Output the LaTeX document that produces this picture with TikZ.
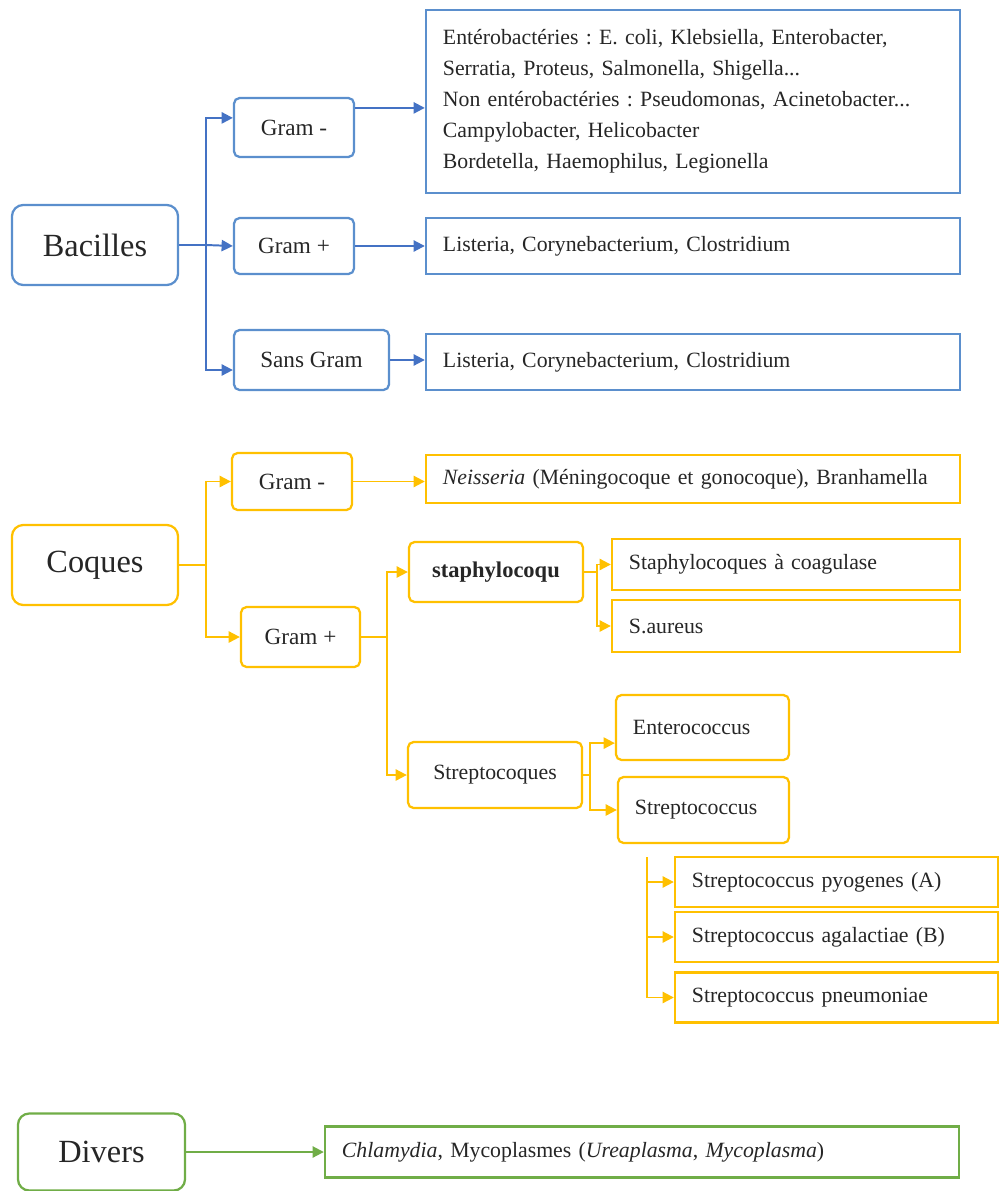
\documentclass[tikz,border=0pt]{standalone}
\usepackage{fontspec}
\setmainfont{Liberation Serif}
\usetikzlibrary{arrows.meta}
\definecolor{bacblue}{HTML}{4472C4}
\definecolor{boxblue}{HTML}{5B8FCD}
\definecolor{coqgold}{HTML}{FFC000}
\definecolor{divgreen}{HTML}{70AD47}
\frenchspacing

\begin{document}
\begin{tikzpicture}[x=0.025cm,y=-0.025cm,>={Triangle[length=8pt,width=8pt]},
  every node/.style={inner ysep=0pt,text=black!85},
  root/.style={draw,line width=1.6pt,rounded corners=8pt,minimum width=4.15cm,minimum height=2cm,font=\fontsize{23}{26}\selectfont},
  mid/.style={draw,line width=1.6pt,rounded corners=4pt,font=\fontsize{16.5}{19}\selectfont},
  leaf/.style={draw,line width=1.6pt,inner xsep=0.425cm,align=left,font=\fontsize{15.5}{22}\selectfont},
  link/.style={->,line width=1.4pt},
  trunk/.style={line width=1.4pt}]
\useasboundingbox (0,0) rectangle (1004,1191);

% bacilles
\node[root,draw=boxblue] (bac) at (95,245) {Bacilles};
\node[mid,draw=boxblue,minimum width=3cm,minimum height=1.475cm] (bgn) at (294,127.5) {Gram -};
\node[mid,draw=boxblue,minimum width=3cm,minimum height=1.4cm] (bgp) at (294,246) {Gram +};
\node[mid,draw=boxblue,minimum width=3.875cm,minimum height=1.5cm] (bsg) at (311.5,360) {Sans Gram};
\node[leaf,draw=boxblue,text width=12.5cm,minimum height=4.575cm] (lgn) at (693,101.5) {Entérobactéries : E. coli, Klebsiella, Enterobacter,\\Serratia, Proteus, Salmonella, Shigella...\\Non entérobactéries : Pseudomonas, Acinetobacter...\\Campylobacter, Helicobacter\\Bordetella, Haemophilus, Legionella};
\node[leaf,draw=boxblue,text width=12.5cm,minimum height=1.4cm] (lgp) at (693,246) {Listeria, Corynebacterium, Clostridium};
\node[leaf,draw=boxblue,text width=12.5cm,minimum height=1.4cm] (lsg) at (693,362) {Listeria, Corynebacterium, Clostridium};
\coordinate (bj) at (206,245);
\coordinate (bgnout) at ([yshift=0.49cm]bgn.east);
\draw[trunk,bacblue] (bac.east) -- (bj);
\draw[link,bacblue] (bj) |- ([yshift=0.24cm]bgn.west);
\draw[link,bacblue] (bj) -- (bgp.west);
\draw[link,bacblue] (bj) |- ([yshift=-0.25cm]bsg.west);
\draw[link,bacblue] (bgnout) -- (bgnout -| lgn.west);
\draw[link,bacblue] (bgp.east) -- (lgp.west);
\draw[link,bacblue] (bsg.east) -- (bsg.east -| lsg.west);

% coques
\node[root,draw=coqgold] (coq) at (95,565) {Coques};
\node[mid,draw=coqgold,minimum width=3cm,minimum height=1.425cm] (cgn) at (292,481.5) {Gram -};
\node[mid,draw=coqgold,minimum width=2.975cm,minimum height=1.5cm] (cgp) at (300.5,637) {Gram +};
\node[leaf,draw=coqgold,text width=12.5cm,minimum height=1.2cm] (neis) at (693,479) {\textit{Neisseria} (Méningocoque et gonocoque), Branhamella};
\node[mid,draw=coqgold,minimum width=4.35cm,minimum height=1.5cm,font=\fontsize{16}{19}\selectfont\bfseries] (staph) at (496,572) {staphylocoqu};
\node[mid,draw=coqgold,minimum width=4.35cm,minimum height=1.65cm,font=\fontsize{15.5}{19}\selectfont] (strq) at (495,775) {Streptocoques};
\node[leaf,draw=coqgold,text width=7.85cm,minimum height=1.275cm] (coag) at (786,564.5) {Staphylocoques à coagulase};
\node[leaf,draw=coqgold,text width=7.85cm,minimum height=1.3cm] (saur) at (786,626) {S.aureus};
\node[leaf,draw=coqgold,rounded corners=4pt,text width=3.475cm,minimum height=1.625cm] (ent) at (702.5,727.5) {Enterococcus};
\node[leaf,draw=coqgold,rounded corners=4pt,text width=3.425cm,minimum height=1.65cm] (strc) at (703.5,810) {Streptococcus};
\node[leaf,draw=coqgold,text width=7.225cm,minimum height=1.25cm] (pyo) at (836.5,882) {Streptococcus pyogenes (A)};
\node[leaf,draw=coqgold,text width=7.225cm,minimum height=1.25cm] (aga) at (836.5,937) {Streptococcus agalactiae (B)};
\node[leaf,draw=coqgold,text width=7.225cm,minimum height=1.25cm] (pneu) at (836.5,997.5) {Streptococcus pneumoniae};
\coordinate (cj) at (206,565);
\coordinate (gj) at (387,637);
\coordinate (sj) at (597,572);
\coordinate (tj) at (590,775);
\coordinate (pj) at (647,857);
\draw[trunk,coqgold] (coq.east) -- (cj);
\draw[link,coqgold] (cj) |- (cgn.west);
\draw[link,coqgold] (cj) |- (cgp.west);
\draw[link,coqgold] (cgn.east) -- (cgn.east -| neis.west);
\draw[trunk,coqgold] (cgp.east) -- (gj);
\draw[link,coqgold] (gj) |- (staph.west);
\draw[link,coqgold] (gj) |- (strq.west);
\draw[trunk,coqgold] (staph.east) -- (sj);
\draw[link,coqgold] (sj) |- (coag.west);
\draw[link,coqgold] (sj) |- (saur.west);
\draw[trunk,coqgold] (strq.east) -- (tj);
\draw[link,coqgold] (tj) |- ([yshift=-0.39cm]ent.west);
\draw[link,coqgold] (tj) |- (strc.west);
\draw[link,coqgold] (pj) |- (pyo.west);
\draw[link,coqgold] (pj) |- (aga.west);
\draw[link,coqgold] (pj) |- (pneu.west);

% divers
\node[root,draw=divgreen,minimum width=4.175cm,minimum height=1.925cm] (div) at (101.5,1152) {Divers};
\node[leaf,draw=divgreen,text width=15cm,minimum height=1.275cm] (chl) at (642,1152) {\textit{Chlamydia}, Mycoplasmes (\textit{Ureaplasma}, \textit{Mycoplasma})};
\draw[link,divgreen] (div.east) -- (chl.west);
\end{tikzpicture}
\end{document}
